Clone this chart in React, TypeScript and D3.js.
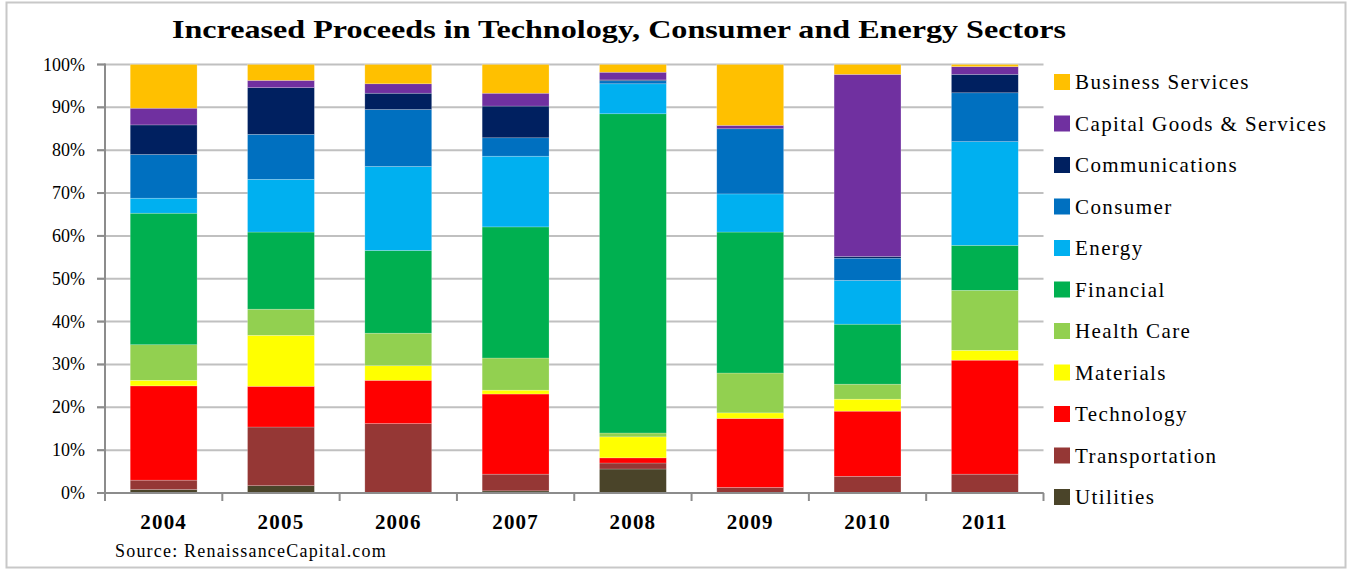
import React from "react";
import * as d3 from "d3";

const years = ["2004", "2005", "2006", "2007", "2008", "2009", "2010", "2011"];
const sectors = [
  "Utilities",
  "Transportation",
  "Technology",
  "Materials",
  "Health Care",
  "Financial",
  "Energy",
  "Consumer",
  "Communications",
  "Capital Goods & Services",
  "Business Services",
];
const colors = [
  "#4A4429",
  "#953735",
  "#FF0000",
  "#FFFF00",
  "#92D050",
  "#00B050",
  "#00B0F0",
  "#0070C0",
  "#002060",
  "#7030A0",
  "#FFC000",
];
// values (%) per sector, in year order
const utilities = [0.8, 1.7, 0.0, 0.5, 5.6, 0.0, 0.0, 0.0];
const transportation = [2.2, 13.7, 16.2, 3.9, 1.4, 1.3, 3.9, 4.4];
const technology = [22.0, 9.5, 10.1, 18.7, 1.2, 16.1, 15.2, 26.6];
const materials = [1.3, 11.9, 3.4, 0.9, 4.9, 1.3, 2.8, 2.3];
const healthCare = [8.3, 6.1, 7.6, 7.5, 0.9, 9.3, 3.5, 14.0];
const financial = [30.7, 18.0, 19.3, 30.6, 74.5, 32.9, 14.0, 10.5];
const energy = [3.5, 12.3, 19.6, 16.5, 7.0, 8.9, 10.2, 24.2];
const consumer = [10.2, 10.5, 13.3, 4.3, 0.7, 15.2, 5.2, 11.4];
const communications = [6.9, 10.9, 3.8, 7.4, 0.2, 0.0, 0.4, 4.3];
const capitalGoods = [3.9, 1.7, 2.2, 3.0, 1.8, 0.8, 42.5, 1.8];
const businessServices = [10.2, 3.7, 4.5, 6.7, 1.8, 14.2, 2.3, 0.5];
const seriesValues = [
  utilities,
  transportation,
  technology,
  materials,
  healthCare,
  financial,
  energy,
  consumer,
  communications,
  capitalGoods,
  businessServices,
];
const yTicks = [0, 10, 20, 30, 40, 50, 60, 70, 80, 90, 100];
const legendOrder = [...sectors].reverse();

const W = 1351;
const H = 571;
const plot = { left: 105, right: 1043.5, top: 64.5, bottom: 493 };
const serif = "'Liberation Serif', 'Times New Roman', serif";

export default function App() {
  const x = d3
    .scaleBand<string>()
    .domain(years)
    .range([plot.left, plot.right])
    .paddingInner(0.43)
    .paddingOuter(0.215);
  const y = d3.scaleLinear().domain([0, 100]).range([plot.bottom, plot.top]);

  const rows = years.map((yr, i) => {
    const r: Record<string, number | string> = { year: yr };
    sectors.forEach((s, k) => (r[s] = seriesValues[k][i]));
    return r;
  });
  const stacked = d3
    .stack<Record<string, number | string>>()
    .keys(sectors)
    .offset(d3.stackOffsetExpand)(rows as any);

  const step = (plot.right - plot.left) / years.length;
  const boundaries = d3.range(years.length + 1).map((i) => plot.left + i * step);

  return (
    <svg
      width={W}
      height={H}
      style={{ position: "absolute", left: 0, top: 0, background: "#fff" }}
    >
      <rect x={6.5} y={2.5} width={1339} height={565} fill="#fff" stroke="#c8c8c8" strokeWidth={2} />
      <text
        x={619}
        y={38}
        textAnchor="middle"
        fontFamily={serif}
        fontWeight="bold"
        fontSize={26}
        textLength={894}
        lengthAdjust="spacingAndGlyphs"
        fill="#000"
      >
        Increased Proceeds in Technology, Consumer and Energy Sectors
      </text>

      {/* gridlines */}
      {yTicks.map((t) => (
        <line
          key={"g" + t}
          x1={plot.left - 8}
          x2={plot.right}
          y1={y(t)}
          y2={y(t)}
          stroke={t === 0 ? "#8c8c8c" : "#c0c0c0"}
          strokeWidth={2}
        />
      ))}
      {yTicks.map((t) => (
        <line key={"yt" + t} x1={plot.left - 8} x2={plot.left} y1={y(t)} y2={y(t)} stroke="#8c8c8c" strokeWidth={2} />
      ))}

      {/* bars */}
      {stacked.map((layer, k) => (
        <g key={sectors[k]} fill={colors[k]}>
          {layer.map((d, i) => {
            const y0 = y(d[0] * 100);
            const y1 = y(d[1] * 100);
            const h = y0 - y1;
            if (h <= 0) return null;
            return (
              <rect
                key={i}
                x={x(years[i])}
                y={y1}
                width={x.bandwidth()}
                height={h}
                stroke="#ffffff"
                strokeOpacity={0.35}
                strokeWidth={0.6}
              />
            );
          })}
        </g>
      ))}

      {/* axes */}
      <line x1={plot.left} x2={plot.left} y1={plot.top - 1} y2={plot.bottom + 8} stroke="#8c8c8c" strokeWidth={2} />
      <line x1={plot.left - 8} x2={plot.right} y1={plot.bottom} y2={plot.bottom} stroke="#8c8c8c" strokeWidth={2} />
      {boundaries.map((bx, i) => (
        <line key={"xt" + i} x1={bx} x2={bx} y1={plot.bottom} y2={plot.bottom + 8} stroke="#8c8c8c" strokeWidth={2} />
      ))}

      {yTicks.map((t) => (
        <text
          key={"yl" + t}
          x={85}
          y={y(t) + 6}
          textAnchor="end"
          fontFamily={serif}
          fontSize={18}
          fill="#000"
        >
          {t + "%"}
        </text>
      ))}
      {years.map((yr) => (
        <text
          key={"xl" + yr}
          x={(x(yr) as number) + x.bandwidth() / 2}
          y={529}
          textAnchor="middle"
          fontFamily={serif}
          fontWeight="bold"
          fontSize={21}
          letterSpacing={1.2}
          fill="#000"
        >
          {yr}
        </text>
      ))}

      {/* legend */}
      {legendOrder.map((s, i) => {
        const k = sectors.indexOf(s);
        const cy = 82 + i * 41.5;
        return (
          <g key={"lg" + s}>
            <rect x={1054} y={cy - 8} width={16} height={16} fill={colors[k]} />
            <text x={1075} y={cy + 7} fontFamily={serif} fontSize={21} letterSpacing={1.4} fill="#000">
              {s}
            </text>
          </g>
        );
      })}

      <text x={115} y={557} fontFamily={serif} fontSize={18} letterSpacing={1.2} fill="#000">
        Source: RenaissanceCapital.com
      </text>
    </svg>
  );
}
